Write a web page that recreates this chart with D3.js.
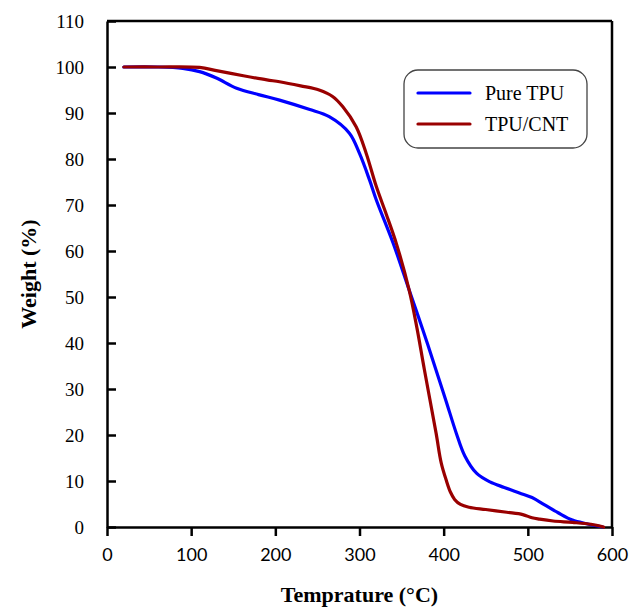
<!DOCTYPE html>
<html>
<head>
<meta charset="utf-8">
<script src="https://cdn.jsdelivr.net/npm/d3@7"></script>
<style>
  body { margin: 0; background: #fff; }
</style>
</head>
<body>
<svg id="chart"></svg>
<script>
// values
var tempPure = [20, 60, 90, 110, 130, 154, 180, 205, 240, 264, 288, 300, 312, 320, 340, 359, 375, 391, 403, 415, 425, 439, 455, 472, 490, 505, 520, 536, 553, 570, 589];
var weightPure = [100, 100, 99.7, 99, 97.6, 95.4, 94, 92.8, 90.8, 89.2, 85.6, 81.2, 75.4, 71.1, 61.7, 51.5, 43, 34.1, 27.3, 20.4, 15.5, 11.7, 9.8, 8.6, 7.4, 6.4, 4.8, 3.1, 1.5, 0.7, 0];
var tempCnt = [20, 60, 110, 130, 162, 190, 205, 230, 252, 268, 280, 296, 308, 320, 332, 344, 359, 368, 377, 391, 397, 403, 408, 413, 420, 430, 450, 475, 494, 505, 514, 530, 553, 575, 590];
var weightCnt = [100, 100, 99.9, 99.2, 98.1, 97.2, 96.8, 95.9, 95, 93.6, 91.4, 87, 81.2, 74, 67.9, 61.5, 51.5, 43.5, 34.3, 20.4, 14, 10.2, 7.6, 6, 4.9, 4.3, 3.8, 3.2, 2.7, 2.0, 1.7, 1.3, 1.0, 0.6, 0];
var xTicks = [0, 100, 200, 300, 400, 500, 600];
var yTicks = [0, 10, 20, 30, 40, 50, 60, 70, 80, 90, 100, 110];
var seriesNames = ["Pure TPU", "TPU/CNT"];
var seriesColors = ["#0000ff", "#990000"];

var margin = {top: 21, right: 20, bottom: 83, left: 107},
    width = 632 - margin.left - margin.right,
    height = 610 - margin.top - margin.bottom;

var svg = d3.select("#chart")
    .attr("width", 632)
    .attr("height", 610);
var g = svg.append("g")
    .attr("transform", "translate(" + margin.left + "," + margin.top + ")");

var x = d3.scaleLinear().domain([0, 600]).range([0, width]);
var y = d3.scaleLinear().domain([0, 110]).range([height, 0]);

// frame (top + right)
g.append("line").attr("x1", 0).attr("x2", width).attr("y1", 0).attr("y2", 0)
  .attr("stroke", "black").attr("stroke-width", 2.5);
g.append("line").attr("x1", width).attr("x2", width).attr("y1", 0).attr("y2", height)
  .attr("stroke", "black").attr("stroke-width", 2.5);

var xAxis = g.append("g")
    .attr("transform", "translate(0," + height + ")")
    .call(d3.axisBottom(x).tickValues(xTicks).tickSize(9).tickPadding(12).tickSizeOuter(0));
xAxis.selectAll("text")
    .style("font-family", "Lato, 'Open Sans', sans-serif")
    .style("font-size", "18px")
    .attr("fill", "black");

var yAxis = g.append("g")
    .call(d3.axisLeft(y).tickValues(yTicks).tickSize(-9).tickPadding(23).tickSizeOuter(0));
yAxis.selectAll("text")
    .style("font-family", "'Liberation Serif', 'Times New Roman', serif")
    .style("font-size", "19px")
    .attr("fill", "black");

[xAxis, yAxis].forEach(function(a) {
  a.select(".domain").attr("stroke", "black").attr("stroke-width", 2.5);
  a.selectAll(".tick line").attr("stroke", "black").attr("stroke-width", 2.5);
});

var line = d3.line()
    .x(function(d) { return x(d[0]); })
    .y(function(d) { return y(d[1]); })
    .curve(d3.curveCatmullRom.alpha(0.5));

var seriesData = [
  d3.zip(tempPure, weightPure),
  d3.zip(tempCnt, weightCnt)
];

g.selectAll(".series")
  .data(seriesData)
  .enter()
  .append("path")
    .attr("class", "series")
    .attr("d", line)
    .attr("fill", "none")
    .attr("stroke", function(d, i) { return seriesColors[i]; })
    .attr("stroke-width", 3.2)
    .attr("stroke-linecap", "round")
    .attr("stroke-linejoin", "round");

// legend
var legend = svg.append("g");
legend.append("rect")
    .attr("x", 404).attr("y", 70)
    .attr("width", 183).attr("height", 78)
    .attr("rx", 14).attr("ry", 14)
    .attr("fill", "white")
    .attr("stroke", "#444")
    .attr("stroke-width", 1.3);
seriesNames.forEach(function(name, i) {
  legend.append("line")
    .attr("x1", 418).attr("x2", 470)
    .attr("y1", 93 + i * 31).attr("y2", 93 + i * 31)
    .attr("stroke", seriesColors[i])
    .attr("stroke-width", 3.2)
    .attr("stroke-linecap", "round");
  legend.append("text")
    .attr("x", 485).attr("y", 100 + i * 31)
    .style("font-family", "'Liberation Serif', 'Times New Roman', serif")
    .style("font-size", "20px")
    .text(name);
});

// axis titles
svg.append("text")
    .attr("x", margin.left + width / 2)
    .attr("y", 602)
    .attr("text-anchor", "middle")
    .style("font-family", "'Liberation Serif', 'Times New Roman', serif")
    .style("font-size", "22px")
    .style("font-weight", "bold")
    .text("Temprature (°C)");

svg.append("text")
    .attr("transform", "translate(36," + (margin.top + height / 2) + ") rotate(-90)")
    .attr("text-anchor", "middle")
    .style("font-family", "'Liberation Serif', 'Times New Roman', serif")
    .style("font-size", "22px")
    .style("font-weight", "bold")
    .text("Weight (%)");
</script>
</body>
</html>
